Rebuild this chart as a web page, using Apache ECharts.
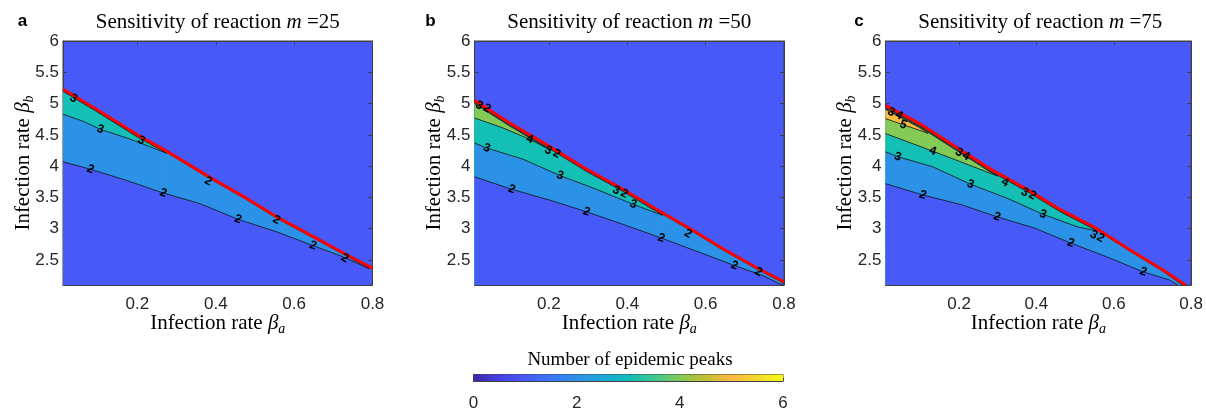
<!DOCTYPE html>
<html><head><meta charset="utf-8">
<script src="https://cdn.jsdelivr.net/npm/echarts@6/dist/echarts.min.js"></script>
<style>html,body{margin:0;padding:0;background:#fff}#c{width:1206px;height:412px}</style>
</head><body><div id="c"></div><script>
// ---------- data ----------
const mValues = ['25', '50', '75'];
const panelLetters = ['a', 'b', 'c'];
const xTicks = [0.2, 0.4, 0.6, 0.8];
const yTicks = [2.5, 3, 3.5, 4, 4.5, 5, 5.5, 6];
const xRange = [0.01, 0.8];
const yRange = [2.1, 6];
const cbTicks = [0, 2, 4, 6];
// colour of each level (number of peaks 0..6), parula
const levelColors = ['#3E26A8', '#475AF8', '#2C92E7', '#14BFB6', '#83CA57', '#FBBA40', '#F9FB0E'];

// panel a (m = 25)
const redA = [[0.01,5.23],[0.09,4.93],[0.2,4.50],[0.28,4.22],[0.385,3.82],[0.48,3.48],[0.555,3.19],[0.65,2.87],[0.735,2.58],[0.8,2.37]];
const u2A  = [[0.01,5.21],[0.09,4.91],[0.2,4.48],[0.28,4.20],[0.385,3.80],[0.48,3.46],[0.555,3.17],[0.65,2.85],[0.735,2.56],[0.792,2.36]];
const u3A  = [[0.01,5.195],[0.09,4.895],[0.2,4.465],[0.275,4.205]];
const l3A  = [[0.01,4.83],[0.06,4.72],[0.105,4.59],[0.173,4.45],[0.232,4.31],[0.275,4.205]];
const l2A  = [[0.01,4.07],[0.08,3.95],[0.173,3.77],[0.266,3.57],[0.36,3.40],[0.457,3.15],[0.555,2.95],[0.648,2.73],[0.725,2.55],[0.792,2.36]];
const lowLabelsA  = [[0.08,3.95,'2'],[0.266,3.57,'2'],[0.457,3.15,'2'],[0.648,2.73,'2'],[0.105,4.59,'3']];
const highLabelsA = [[0.037,5.08,'3'],[0.21,4.41,'3'],[0.381,3.76,'2'],[0.555,3.14,'2'],[0.729,2.53,'2']];

// panel b (m = 50)
const redB = [[0.01,5.05],[0.1,4.69],[0.2,4.32],[0.296,3.95],[0.389,3.63],[0.474,3.31],[0.568,2.97],[0.644,2.68],[0.729,2.38],[0.8,2.15]];
const u2B  = [[0.01,5.03],[0.1,4.67],[0.2,4.30],[0.296,3.93],[0.389,3.61],[0.474,3.29],[0.568,2.95],[0.644,2.66],[0.729,2.36],[0.8,2.13]];
const u3B  = [[0.01,5.015],[0.1,4.655],[0.2,4.285],[0.296,3.915],[0.389,3.595],[0.474,3.275],[0.49,3.215]];
const u4B  = [[0.01,5.0],[0.1,4.64],[0.205,4.25]];
const l4B  = [[0.01,4.77],[0.083,4.61],[0.151,4.43],[0.205,4.25]];
const l3B  = [[0.01,4.37],[0.041,4.29],[0.134,4.11],[0.228,3.85],[0.321,3.63],[0.415,3.39],[0.474,3.25],[0.49,3.215]];
const l2B  = [[0.01,3.83],[0.105,3.63],[0.211,3.44],[0.296,3.27],[0.389,3.07],[0.487,2.85],[0.585,2.62],[0.674,2.41],[0.746,2.25],[0.795,2.1]];
const lowLabelsB  = [[0.105,3.63,'2'],[0.296,3.27,'2'],[0.487,2.85,'2'],[0.674,2.41,'2'],[0.041,4.29,'3'],[0.228,3.85,'3'],[0.415,3.39,'3'],[0.151,4.43,'4']];
const highLabelsB = [[0.022,4.97,'3'],[0.042,4.92,'2'],[0.198,4.25,'3'],[0.22,4.20,'2'],[0.372,3.61,'3'],[0.392,3.56,'2'],[0.555,2.92,'2'],[0.735,2.31,'2']];

// panel c (m = 75)
const redC = [[0.01,4.97],[0.098,4.68],[0.191,4.31],[0.285,3.94],[0.378,3.62],[0.463,3.30],[0.548,3.03],[0.642,2.66],[0.727,2.34],[0.785,2.1]];
const u2C  = [[0.01,4.95],[0.098,4.66],[0.191,4.29],[0.285,3.92],[0.378,3.60],[0.463,3.28],[0.548,3.01],[0.642,2.64],[0.727,2.32],[0.777,2.1]];
const u3C  = [[0.01,4.935],[0.098,4.645],[0.191,4.275],[0.285,3.905],[0.378,3.585],[0.463,3.265],[0.548,2.995],[0.555,2.965]];
const u4C  = [[0.01,4.92],[0.098,4.63],[0.191,4.26],[0.285,3.89],[0.30,3.84]];
const u5C  = [[0.01,4.905],[0.098,4.615],[0.12,4.525]];
const l5C  = [[0.01,4.76],[0.056,4.66],[0.095,4.58],[0.12,4.525]];
const l4C  = [[0.01,4.52],[0.132,4.24],[0.225,4.02],[0.30,3.84]];
const l3C  = [[0.01,4.23],[0.042,4.15],[0.132,3.99],[0.23,3.71],[0.327,3.48],[0.417,3.23],[0.506,3.03],[0.555,2.965]];
const l2C  = [[0.01,3.72],[0.106,3.54],[0.208,3.38],[0.298,3.19],[0.395,3.01],[0.489,2.77],[0.582,2.55],[0.676,2.31],[0.744,2.18],[0.765,2.1]];
const lowLabelsC  = [[0.106,3.54,'2'],[0.298,3.19,'2'],[0.489,2.77,'2'],[0.676,2.31,'2'],[0.042,4.15,'3'],[0.23,3.71,'3'],[0.417,3.23,'3'],[0.132,4.24,'4'],[0.056,4.66,'5']];
const highLabelsC = [[0.025,4.86,'3'],[0.045,4.81,'4'],[0.2,4.22,'3'],[0.218,4.16,'4'],[0.319,3.74,'4'],[0.37,3.58,'3'],[0.39,3.53,'2'],[0.548,2.9,'3'],[0.566,2.85,'2']];

// ---------- layout / styles ----------
const gridLefts = [63, 474.5, 885.5];
const gridW = 309.5, gridTop = 41, gridH = 244;
const axisColor = '#404040', textColor = '#262626';
const parulaStops = [[0,'#3E26A8'],[0.1,'#4746EB'],[0.167,'#475AF8'],[0.25,'#3A78FD'],[0.333,'#2C92E7'],[0.417,'#1CA7D8'],[0.5,'#12BDBA'],[0.583,'#3EC792'],[0.667,'#83CA57'],[0.75,'#C4BF37'],[0.833,'#FBBA40'],[0.917,'#F3D831'],[1,'#F9FB0E']];

const panels = [
  {bands: [[u2A,2],[u3A,3],[l3A,2],[l2A,1]], red: redA, low: lowLabelsA, high: highLabelsA},
  {bands: [[u2B,2],[u3B,3],[u4B,4],[l4B,3],[l3B,2],[l2B,1]], red: redB, low: lowLabelsB, high: highLabelsB},
  {bands: [[u2C,2],[u3C,3],[u4C,4],[u5C,5],[l5C,4],[l4C,3],[l3C,2],[l2C,1]], red: redC, low: lowLabelsC, high: highLabelsC}
];

const serifRich = {
  t: {fontFamily: 'Liberation Serif', fontSize: 21, color: '#000', lineHeight: 26},
  g: {fontFamily: 'Liberation Serif', fontStyle: 'italic', fontSize: 21, color: '#000', lineHeight: 26},
  s: {fontFamily: 'Liberation Serif', fontStyle: 'italic', fontSize: 14, color: '#000', lineHeight: 14, verticalAlign: 'bottom'}
};

const grids = [], xAxes = [], yAxes = [], series = [], graphics = [];
panels.forEach((p, i) => {
  grids.push({left: gridLefts[i], top: gridTop, width: gridW, height: gridH, show: true,
    backgroundColor: levelColors[1], borderColor: axisColor, borderWidth: 1});
  const common = {gridIndex: i, type: 'value', splitLine: {show: false},
    axisLine: {show: true, onZero: false, lineStyle: {color: axisColor, width: 1}}};
  xAxes.push(Object.assign({}, common, {position: 'bottom', min: xRange[0], max: xRange[1],
    axisTick: {show: true, inside: true, length: 4, customValues: xTicks, lineStyle: {color: axisColor}},
    axisLabel: {customValues: xTicks, color: textColor, fontFamily: 'Liberation Sans', fontSize: 17, margin: 11},
    name: '{t|Infection rate }{g|β}{s|a}', nameLocation: 'middle', nameGap: 25, nameMoveOverlap: false,
    nameTextStyle: {rich: serifRich}}));
  xAxes.push(Object.assign({}, common, {position: 'top', min: xRange[0], max: xRange[1],
    axisTick: {show: true, inside: true, length: 4, customValues: xTicks, lineStyle: {color: axisColor}},
    axisLabel: {show: false}}));
  yAxes.push(Object.assign({}, common, {position: 'left', min: yRange[0], max: yRange[1],
    axisTick: {show: true, inside: true, length: 4, customValues: yTicks, lineStyle: {color: axisColor}},
    axisLabel: {customValues: yTicks, color: textColor, fontFamily: 'Liberation Sans', fontSize: 17, margin: 4},
    name: '{t|Infection rate }{g|β}{s|b}', nameLocation: 'middle', nameGap: 27, nameRotate: 90, nameMoveOverlap: false,
    nameTextStyle: {rich: serifRich}}));
  yAxes.push(Object.assign({}, common, {position: 'right', min: yRange[0], max: yRange[1],
    axisTick: {show: true, inside: true, length: 4, customValues: yTicks, lineStyle: {color: axisColor}},
    axisLabel: {show: false}}));

  p.bands.forEach(([data, lvl]) => series.push({
    type: 'line', xAxisIndex: 2 * i, yAxisIndex: 2 * i, data: data, symbol: 'none', silent: true,
    animation: false, lineStyle: {color: '#111', width: 0.8},
    areaStyle: {color: levelColors[lvl], opacity: 1, origin: 'start'}
  }));
  series.push({type: 'line', xAxisIndex: 2 * i, yAxisIndex: 2 * i, data: p.red, symbol: 'none',
    silent: true, animation: false, lineStyle: {color: '#FF0000', width: 3}});
  [[p.low, -20], [p.high, -29]].forEach(([labs, rot]) => series.push({
    type: 'custom', xAxisIndex: 2 * i, yAxisIndex: 2 * i, silent: true, animation: false, z: 10,
    data: labs.map(l => [l[0], l[1]]),
    renderItem: function (params, api) {
      const pt = api.coord([api.value(0), api.value(1)]);
      return {type: 'text', x: pt[0], y: pt[1], rotation: rot * Math.PI / 180,
        style: {text: labs[params.dataIndex][2], font: 'bold 12px "Liberation Sans"', fill: '#000',
          align: 'center', verticalAlign: 'middle'}};
    }
  }));

  graphics.push({type: 'text', x: gridLefts[i] + gridW / 2, y: 22, style: {
    text: '{t|Sensitivity of reaction }{g|m}{t| =' + mValues[i] + '}', rich: serifRich,
    align: 'center', verticalAlign: 'middle'}});
});
[[22.5, 0], [430.5, 1], [859, 2]].forEach(([x, k]) => graphics.push({type: 'text', x: x, y: 21,
  style: {text: panelLetters[k], font: 'bold 17px "Liberation Sans"', fill: '#000', align: 'center', verticalAlign: 'middle'}}));
graphics.push({type: 'text', x: 630, y: 360, style: {text: 'Number of epidemic peaks', font: '19px "Liberation Serif"', fill: '#000', align: 'center', verticalAlign: 'middle'}});

// colorbar
grids.push({left: 473.5, top: 374.5, width: 309.5, height: 15.5, show: true, backgroundColor: 'transparent', borderColor: axisColor, borderWidth: 1});
xAxes.push({gridIndex: 3, type: 'value', min: cbTicks[0], max: cbTicks[cbTicks.length - 1], interval: 2, splitLine: {show: false},
  axisLine: {show: true, lineStyle: {color: axisColor}},
  axisTick: {show: true, inside: true, length: 3, lineStyle: {color: axisColor}},
  axisLabel: {color: textColor, fontFamily: 'Liberation Sans', fontSize: 17, margin: 14}});
yAxes.push({gridIndex: 3, type: 'value', min: 0, max: 1, show: false});
series.push({type: 'custom', xAxisIndex: 6, yAxisIndex: 6, silent: true, animation: false, z: 1,
  data: [[cbTicks[0], cbTicks[cbTicks.length - 1]]],
  encode: {x: [0, 1]},
  renderItem: function (params, api) {
    const p0 = api.coord([api.value(0), 1]);
    const p1 = api.coord([api.value(1), 0]);
    return {type: 'rect', shape: {x: p0[0], y: p0[1], width: p1[0] - p0[0], height: p1[1] - p0[1]},
      style: {fill: new echarts.graphic.LinearGradient(0, 0, 1, 0, parulaStops.map(s => ({offset: s[0], color: s[1]})))}};
  }});

const chart = echarts.init(document.getElementById('c'), null, {renderer: 'canvas'});
chart.setOption({animation: false, backgroundColor: '#fff', grid: grids, xAxis: xAxes, yAxis: yAxes, series: series, graphic: graphics});
</script></body></html>
